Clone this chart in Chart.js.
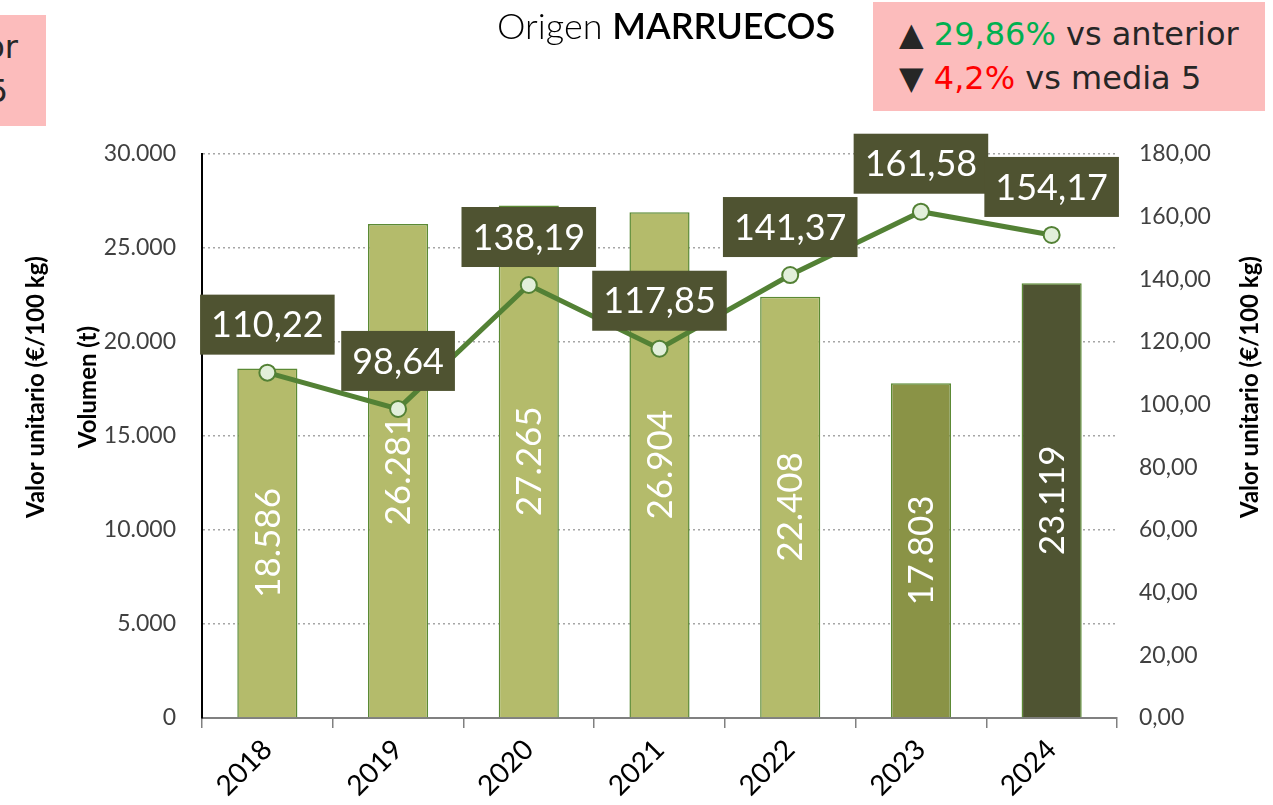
<!DOCTYPE html>
<html>
<head>
<meta charset="utf-8">
<script src="https://cdn.jsdelivr.net/npm/chart.js@4.4.1/dist/chart.umd.min.js"></script>
<style>
  body { margin: 0; background: #fff; overflow: hidden; }
  #wrap { position: relative; width: 1273px; height: 805px; }
  #grafico { position: absolute; left: 0; top: 0; }
  .titulo { position: absolute; left: 0; width: 1332px; top: 3px; text-align: center;
            font-family: Lato, sans-serif; font-size: 36px; color: #000; font-weight: 300; }
  .titulo b { font-weight: 600; }
  .caja { position: absolute; background: #fcbcbc; overflow: hidden;
          font-family: "DejaVu Sans", sans-serif; font-size: 32px; color: #262626; }
  .caja div { position: absolute; white-space: nowrap; }
  .verde { color: #00b050; }
  .rojo { color: #ff0000; }
</style>
</head>
<body>
<div id="wrap">
  <canvas id="grafico" width="1273" height="805"></canvas>
  <div class="titulo">Origen <b>MARRUECOS</b></div>
  <div class="caja" style="left:0;top:15px;width:46px;height:111px;">
    <div style="right:28px;top:13px;">vs anterior</div>
    <div style="right:38px;top:57px;">vs media 5</div>
  </div>
  <div class="caja" style="left:873px;top:2px;width:392px;height:109px;">
    <div style="left:26px;top:13px;">▲ <span class="verde">29,86%</span> vs anterior</div>
    <div style="left:26px;top:57px;">▼ <span class="rojo">4,2%</span> vs media 5</div>
  </div>
</div>
<script>
var years = ['2018', '2019', '2020', '2021', '2022', '2023', '2024'];
var volumen = [18586, 26281, 27265, 26904, 22408, 17803, 23119];
var valor = [110.22, 98.64, 138.19, 117.85, 141.37, 161.58, 154.17];

var barFill = ['#b4bb6b', '#b4bb6b', '#b4bb6b', '#b4bb6b', '#b4bb6b', '#8a9346', '#4f5432'];

function miles(v) {
  return String(Math.round(v)).replace(/\B(?=(\d{3})+(?!\d))/g, '.');
}
function coma(v) {
  return Number(v).toFixed(2).replace('.', ',');
}

// etiquetas de barras, cajas de la linea y titulos de ejes
var etiquetas = {
  id: 'etiquetas',
  afterDatasetDraw: function (chart, args) {
    if (args.index !== 0) return;
    var ctx = chart.ctx;
    args.meta.data.forEach(function (bar, i) {
      ctx.save();
      ctx.translate(bar.x, (bar.y + bar.base) / 2);
      ctx.rotate(-Math.PI / 2);
      ctx.font = '35px Lato';
      ctx.fillStyle = '#fff';
      ctx.textAlign = 'center';
      ctx.textBaseline = 'middle';
      ctx.fillText(miles(volumen[i]), 0, 1);
      ctx.restore();
    });
  },
  afterDatasetsDraw: function (chart) {
    var ctx = chart.ctx;
    var meta = chart.getDatasetMeta(1);
    ctx.save();
    ctx.font = '36px Lato';
    meta.data.forEach(function (pt, i) {
      var txt = coma(valor[i]);
      var w = ctx.measureText(txt).width + 22;
      var h = 60;
      var x = pt.x - w / 2, y = pt.y - 18 - h;
      ctx.fillStyle = '#4f5331';
      ctx.fillRect(x, y, w, h);
      ctx.fillStyle = '#fff';
      ctx.textAlign = 'center';
      ctx.textBaseline = 'middle';
      ctx.fillText(txt, pt.x, y + h / 2 + 1);
    });
    ctx.restore();

    var midY = 387;
    var t = [
      ['Valor unitario (€/100 kg)', 36],
      ['Volumen (t)', 88],
      ['Valor unitario (€/100 kg)', 1250]
    ];
    t.forEach(function (a) {
      ctx.save();
      ctx.translate(a[1], midY);
      ctx.rotate(-Math.PI / 2);
      ctx.font = 'bold 24px Lato';
      ctx.fillStyle = '#000';
      ctx.textAlign = 'center';
      ctx.textBaseline = 'middle';
      ctx.fillText(a[0], 0, 0);
      ctx.restore();
    });
  }
};

var data = {
  labels: years,
  datasets: [
    {
      type: 'bar',
      data: volumen,
      yAxisID: 'y',
      backgroundColor: barFill,
      borderColor: '#5b8a34',
      borderWidth: 1.5,
      barPercentage: 0.46,
      categoryPercentage: 1,
      order: 2
    },
    {
      type: 'line',
      data: valor,
      yAxisID: 'y1',
      borderColor: '#538135',
      borderWidth: 5,
      pointRadius: 8,
      pointBorderWidth: 2,
      pointBackgroundColor: '#e2efda',
      pointBorderColor: '#538135',
      tension: 0,
      order: 1
    }
  ]
};

var config = {
  type: 'bar',
  data: data,
  options: {
    responsive: false,
    animation: false,
    layout: { padding: { top: 154, left: 0, right: 0, bottom: 0 } },
    plugins: {
      legend: { display: false },
      tooltip: { enabled: false }
    },
    scales: {
      x: {
        grid: { offset: true, drawOnChartArea: false, drawTicks: true, tickLength: 10, color: '#808080', lineWidth: 1.5 },
        border: { color: '#808080', width: 2 },
        ticks: { font: { family: 'Lato', size: 28 }, color: '#000', minRotation: 45, maxRotation: 45, padding: 5 },
        afterFit: function (s) { s.height = 87; }
      },
      y: {
        position: 'left',
        min: 0,
        max: 30000,
        ticks: { stepSize: 5000, callback: function (v) { return miles(v); },
                 font: { family: 'Lato', size: 23 }, color: '#404040', padding: 26 },
        grid: { color: '#a6a6a6', lineWidth: 1.5, drawTicks: false },
        border: { color: '#000', width: 2, dash: [2, 3] },
        afterFit: function (s) { s.width = 202; }
      },
      y1: {
        position: 'right',
        min: 0,
        max: 180,
        ticks: { stepSize: 20, callback: function (v) { return coma(v); },
                 font: { family: 'Lato', size: 23 }, color: '#404040', padding: 22 },
        grid: { drawOnChartArea: false, drawTicks: false },
        border: { display: false },
        afterFit: function (s) { s.width = 156; }
      }
    }
  },
  plugins: [etiquetas]
};

var myChart = new Chart(document.getElementById('grafico'), config);
</script>
</body>
</html>
